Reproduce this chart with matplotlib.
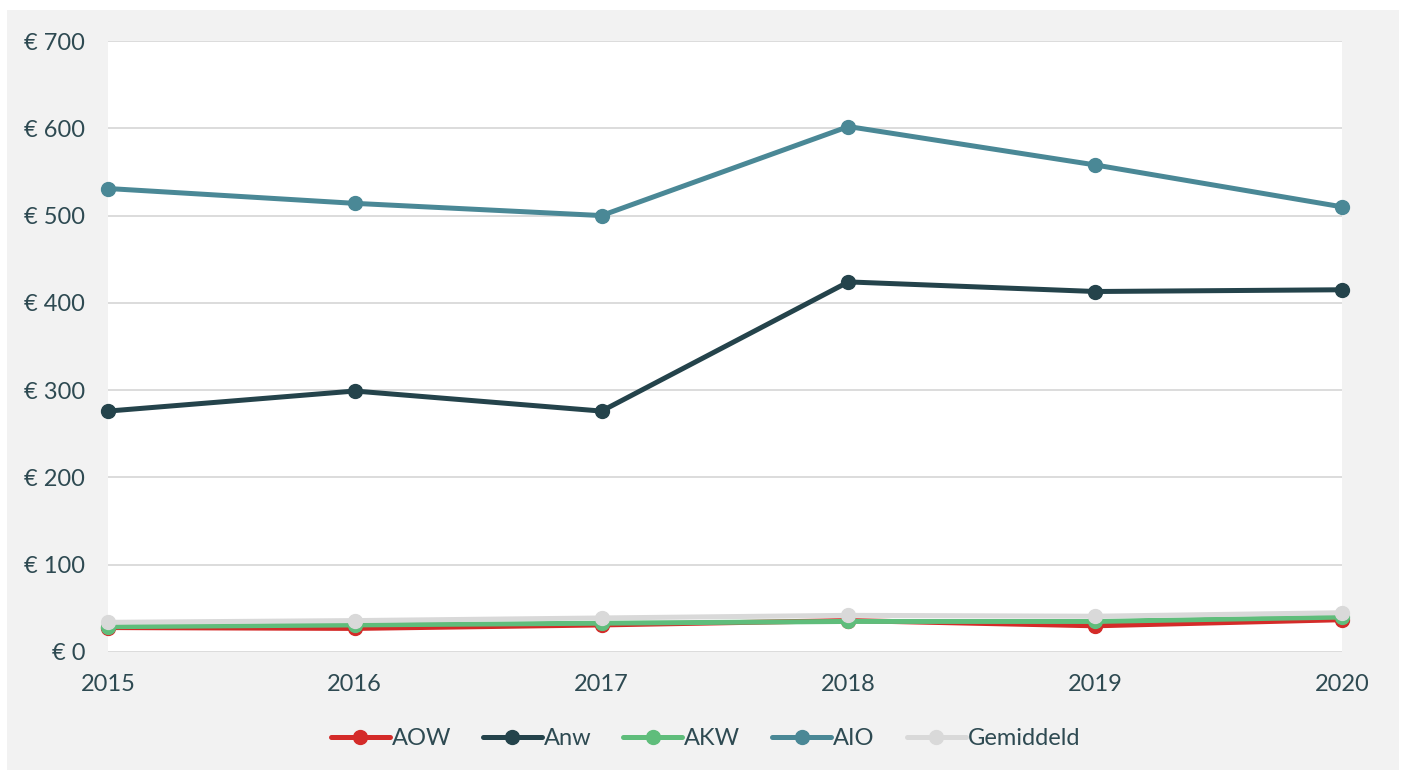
import matplotlib.pyplot as plt
from matplotlib.patches import Rectangle
from matplotlib.ticker import FuncFormatter

plt.rcParams['font.family'] = ['Lato', 'DejaVu Sans']

years = [2015, 2016, 2017, 2018, 2019, 2020]
aow = [28, 27, 31, 36, 30, 37]
anw = [276, 299, 276, 424, 413, 415]
akw = [29, 31, 33, 35, 35, 40]
aio = [531, 514, 500, 602, 558, 510]
gemiddeld = [34, 36, 39, 42, 41, 45]

series = [
    ('AOW', aow, '#d42b29'),
    ('Anw', anw, '#24434b'),
    ('AKW', akw, '#5fbd7b'),
    ('AIO', aio, '#4a8896'),
    ('Gemiddeld', gemiddeld, '#d9d9d9'),
]
text_color = '#2e4a52'

fig = plt.figure(figsize=(14.03, 7.70), dpi=100)
fig.patches.append(Rectangle((7 / 1403, 0), 1392 / 1403, 760 / 770,
                             transform=fig.transFigure, facecolor='#f2f2f2',
                             edgecolor='none', zorder=-10))
ax = fig.add_axes([108 / 1403, 1 - 652 / 770, 1234 / 1403, 611 / 770])
ax.set_facecolor('white')

for name, vals, color in series:
    ax.plot(years, vals, color=color, lw=3.6, marker='o', ms=10,
            solid_capstyle='round', label=name, clip_on=False)

ax.set_xlim(2015, 2020)
ax.set_ylim(0, 700)
ax.set_yticks(range(0, 701, 100))
ax.yaxis.set_major_formatter(FuncFormatter(lambda v, p: f'€ {int(v)}'))
ax.grid(axis='y', color='#d9d9d9', lw=1.3)
ax.set_axisbelow(True)
for s in ax.spines.values():
    s.set_visible(False)
ax.tick_params(length=0, labelsize=17, labelcolor=text_color)
ax.tick_params(axis='y', pad=16.5)
ax.tick_params(axis='x', pad=16)

ax.legend(loc='center', bbox_to_anchor=(0.484, -0.142), ncol=5, frameon=False,
          fontsize=17, labelcolor=text_color, handlelength=2.5,
          handletextpad=0.08, columnspacing=1.35)

fig.savefig('out.png', dpi=100)
